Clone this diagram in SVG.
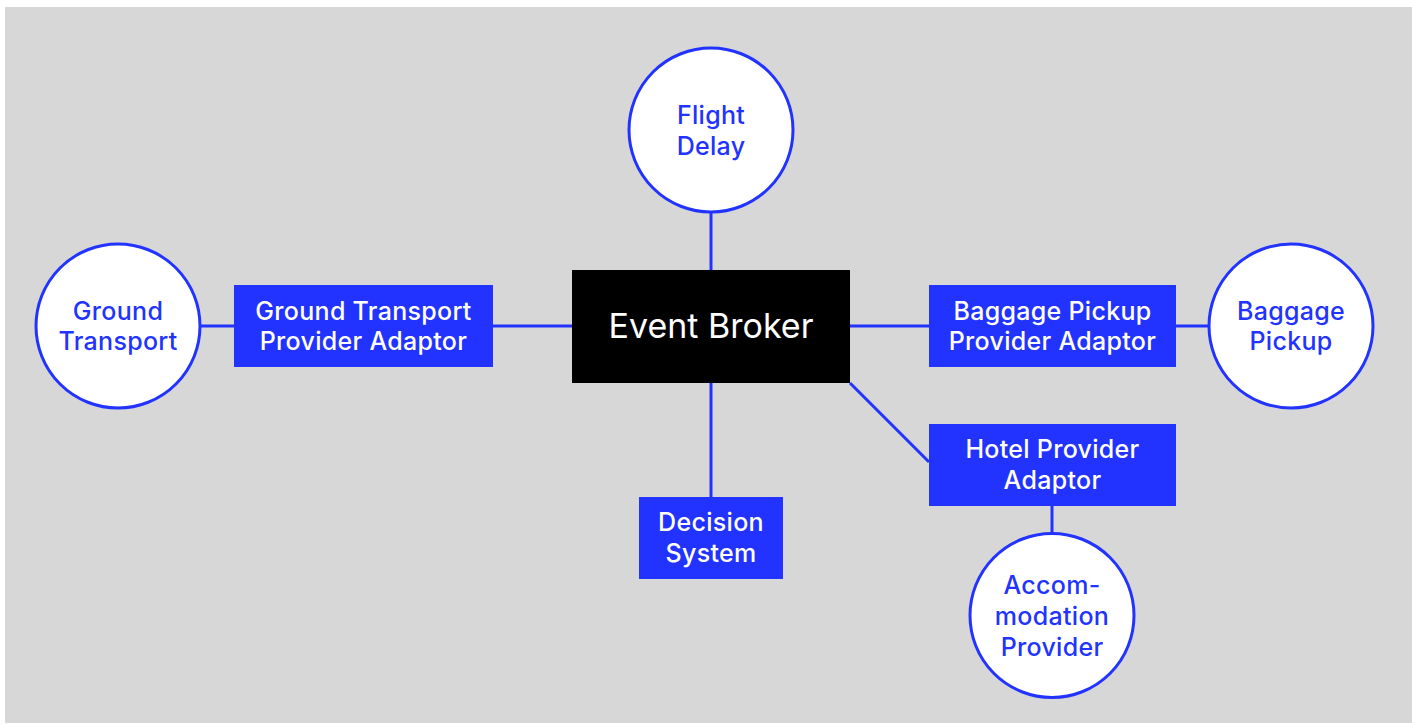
<svg xmlns="http://www.w3.org/2000/svg" width="1412" height="725" viewBox="0 0 1412 725">
<style>
.bg{fill:#d7d7d7}
.conn line{stroke:#2233ff;stroke-width:3}
.circ{fill:#ffffff;stroke:#2233ff;stroke-width:3}
.box{fill:#2233ff}
.ct{fill:#2233ff;font-family:Inter,"Noto Sans",sans-serif;font-weight:500;font-size:25px;letter-spacing:0.3px;text-anchor:middle}
.bt{fill:#ffffff;font-family:Inter,"Noto Sans",sans-serif;font-weight:500;font-size:25px;letter-spacing:0.3px;text-anchor:middle}
.eb{fill:#ffffff;font-family:Inter,"Noto Sans",sans-serif;font-weight:400;font-size:34px;text-anchor:middle}
</style>
<rect width="1412" height="725" fill="#ffffff"/>
<rect class="bg" x="5" y="7" width="1407" height="716"/>
<g id="connectors" class="conn">
<line x1="711" y1="212" x2="711" y2="270"/>
<line x1="201" y1="326" x2="234" y2="326"/>
<line x1="493" y1="326" x2="572" y2="326"/>
<line x1="850" y1="326" x2="929" y2="326"/>
<line x1="1176" y1="326" x2="1209" y2="326"/>
<line x1="711" y1="383" x2="711" y2="497"/>
<line x1="850" y1="383" x2="929" y2="462"/>
<line x1="1052" y1="506" x2="1052" y2="533"/>
</g>
<g id="event-broker">
<rect x="572" y="270" width="278" height="113" fill="#000000"/>
<text class="eb" x="711" y="338">Event Broker</text>
</g>
<g id="flight-delay">
<circle class="circ" cx="711" cy="130" r="82"/>
<text class="ct" x="711" y="124">Flight</text>
<text class="ct" x="711" y="155">Delay</text>
</g>
<g id="ground-transport">
<circle class="circ" cx="118" cy="326" r="82"/>
<text class="ct" x="118" y="320">Ground</text>
<text class="ct" x="118" y="350">Transport</text>
</g>
<g id="ground-transport-adaptor">
<rect class="box" x="234" y="285" width="259" height="82"/>
<text class="bt" x="363.5" y="320">Ground Transport</text>
<text class="bt" x="363.5" y="350">Provider Adaptor</text>
</g>
<g id="baggage-adaptor">
<rect class="box" x="929" y="285" width="247" height="82"/>
<text class="bt" x="1052.5" y="320">Baggage Pickup</text>
<text class="bt" x="1052.5" y="350">Provider Adaptor</text>
</g>
<g id="baggage-pickup">
<circle class="circ" cx="1291" cy="326" r="82"/>
<text class="ct" x="1291" y="320">Baggage</text>
<text class="ct" x="1291" y="350">Pickup</text>
</g>
<g id="decision-system">
<rect class="box" x="639" y="497" width="144" height="82"/>
<text class="bt" x="711" y="531">Decision</text>
<text class="bt" x="711" y="562">System</text>
</g>
<g id="hotel-adaptor">
<rect class="box" x="929" y="424" width="247" height="82"/>
<text class="bt" x="1052.5" y="458">Hotel Provider</text>
<text class="bt" x="1052.5" y="489">Adaptor</text>
</g>
<g id="accommodation-provider">
<circle class="circ" cx="1052" cy="615.5" r="82"/>
<text class="ct" x="1052" y="594">Accom-</text>
<text class="ct" x="1052" y="625">modation</text>
<text class="ct" x="1052" y="656">Provider</text>
</g>
</svg>
